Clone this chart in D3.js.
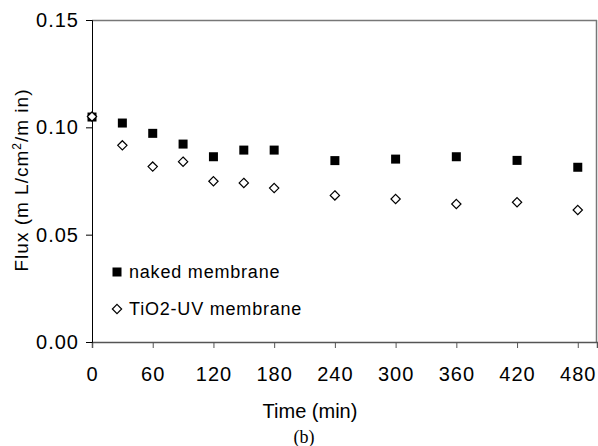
<!DOCTYPE html>
<html>
<head>
<meta charset="utf-8">
<script src="https://cdn.jsdelivr.net/npm/d3@7"></script>
<style>
  body { margin: 0; background: #fff; }
  svg { display: block; }
  text { font-family: "Liberation Sans", Arial, sans-serif; fill: #000; }
</style>
</head>
<body>
<svg id="chart"></svg>
<script>
// data
const times = [0, 30, 60, 90, 120, 150, 180, 240, 300, 360, 420, 480];
const naked = [0.1048, 0.102, 0.0972, 0.0922, 0.0863, 0.0894, 0.0894, 0.0845, 0.0852, 0.0863, 0.0846, 0.0814];
const tio2uv = [0.105, 0.0916, 0.0817, 0.084, 0.0749, 0.0741, 0.0717, 0.0683, 0.0666, 0.0643, 0.0651, 0.0615];
const xTicks = [0, 60, 120, 180, 240, 300, 360, 420, 480];
const yTicks = [0, 0.05, 0.10, 0.15];
const seriesNames = ['naked membrane', 'TiO2-UV membrane'];

const width = 598, height = 446;
const margin = { left: 92, top: 20, right: 1, bottom: 104 };
const plotW = width - margin.left - margin.right;
const plotH = height - margin.top - margin.bottom;

const svg = d3.select('#chart').attr('width', width).attr('height', height);

const x = d3.scaleLinear().domain([0, 499]).range([0, plotW]);
const y = d3.scaleLinear().domain([0, 0.15]).range([plotH, 0]);

const g = svg.append('g').attr('transform', `translate(${margin.left},${margin.top})`);

// plot frame: top and right in grey
g.append('line').attr('x1', 0).attr('x2', plotW).attr('y1', 0.5).attr('y2', 0.5)
    .attr('stroke', '#777').attr('stroke-width', 1.5);
g.append('line').attr('x1', plotW - 0.5).attr('x2', plotW - 0.5).attr('y1', 0).attr('y2', plotH)
    .attr('stroke', '#777').attr('stroke-width', 1.5);

// x axis
const xAxis = g.append('g')
    .attr('transform', `translate(0,${plotH})`)
    .call(d3.axisBottom(x).tickValues(xTicks).tickSize(6).tickPadding(19).tickFormat(d3.format('d')));
xAxis.select('.domain').attr('stroke', '#555').attr('stroke-width', 1.5);
xAxis.selectAll('.tick line').attr('stroke', '#555');
xAxis.selectAll('.tick text')
    .style('font-size', '20px')
    .style('letter-spacing', '1px');

// y axis
const yAxis = g.append('g')
    .call(d3.axisLeft(y).tickValues(yTicks).tickSize(6).tickPadding(7).tickFormat(d3.format('.2f')));
yAxis.select('.domain').attr('stroke', '#000').attr('stroke-width', 1);
yAxis.selectAll('.tick line').attr('stroke', '#000');
yAxis.selectAll('.tick text')
    .style('font-size', '20px')
    .style('letter-spacing', '1px');

// naked membrane: filled squares
const sq = 9;
g.selectAll('rect.naked')
    .data(times.map((t, i) => ({ t, v: naked[i] })))
    .join('rect')
    .attr('class', 'naked')
    .attr('x', d => x(d.t) - sq / 2)
    .attr('y', d => y(d.v) - sq / 2)
    .attr('width', sq)
    .attr('height', sq)
    .attr('fill', '#000');

// TiO2-UV: open diamonds
const diamond = d3.symbol().type(d3.symbolDiamond2).size(55);
g.selectAll('path.tio2')
    .data(times.map((t, i) => ({ t, v: tio2uv[i] })))
    .join('path')
    .attr('class', 'tio2')
    .attr('d', diamond)
    .attr('transform', d => `translate(${x(d.t)},${y(d.v)})`)
    .attr('fill', '#fff')
    .attr('stroke', '#000')
    .attr('stroke-width', 1.2);

// legend
const legend = g.append('g').attr('transform', 'translate(25,252)');
legend.append('rect').attr('x', -4.5).attr('y', -4.5).attr('width', sq).attr('height', sq).attr('fill', '#000');
legend.append('text').attr('x', 12).attr('y', 0).attr('dy', '0.36em')
    .style('font-size', '18px').style('letter-spacing', '0.8px')
    .text(seriesNames[0]);
legend.append('path').attr('d', diamond).attr('transform', 'translate(0,37)')
    .attr('fill', '#fff').attr('stroke', '#000').attr('stroke-width', 1.2);
legend.append('text').attr('x', 12).attr('y', 37).attr('dy', '0.36em')
    .style('font-size', '18px').style('letter-spacing', '0.8px')
    .text(seriesNames[1]);

// axis titles
svg.append('text')
    .attr('transform', 'translate(28,180) rotate(-90)')
    .attr('text-anchor', 'middle')
    .style('font-size', '19px')
    .style('letter-spacing', '1px')
    .html('Flux (m L/cm<tspan baseline-shift="super" font-size="12px">2</tspan>/m in)');

svg.append('text')
    .attr('x', 310).attr('y', 418)
    .attr('text-anchor', 'middle')
    .style('font-size', '20px')
    .text('Time  (min)');

// panel label
svg.append('text')
    .attr('x', 304).attr('y', 443)
    .attr('text-anchor', 'middle')
    .style('font-family', '"Liberation Serif", "DejaVu Serif", serif')
    .style('font-size', '18px')
    .text('(b)');
</script>
</body>
</html>
